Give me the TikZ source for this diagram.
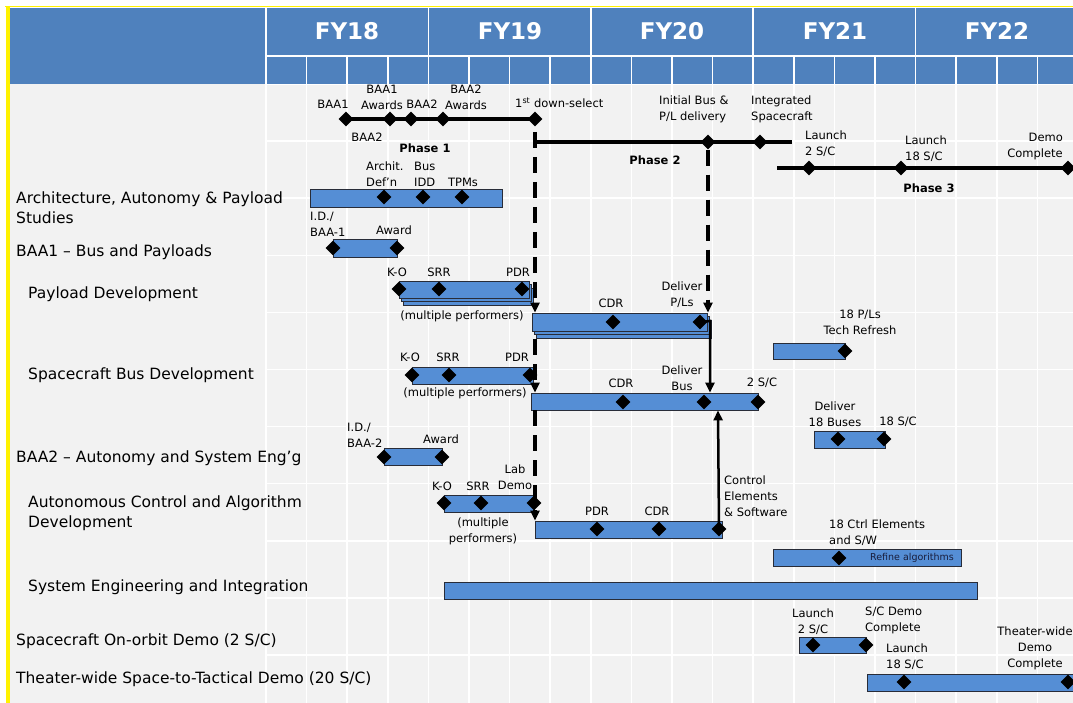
\documentclass[tikz,border=0pt]{standalone}
\usepackage{fontspec}
\setmainfont{DejaVu Sans}
\usetikzlibrary{shapes.geometric,arrows.meta,fit}
\definecolor{hdrblue}{RGB}{79,129,189}
\definecolor{barblue}{RGB}{85,142,213}
\definecolor{bodygray}{RGB}{242,242,242}
\definecolor{baredge}{RGB}{40,44,56}
\tikzset{
 ms/.style={diamond, fill=black, minimum width=15pt, minimum height=15pt, inner sep=0pt},
 barbox/.style={draw=baredge, fill=barblue, line width=0.8pt, inner sep=0pt},
 lbl/.style={font=\fontsize{11.5}{16}\selectfont, inner sep=0pt, align=center},
 lbll/.style={lbl, align=left, anchor=west},
 rowlbl/.style={font=\fontsize{15.5}{20}\selectfont, inner sep=0pt, align=left, anchor=west},
 phase/.style={font=\bfseries\fontsize{11.5}{14}\selectfont, inner sep=0pt},
 fy/.style={font=\bfseries\fontsize{23}{26}\selectfont, text=white, inner sep=0pt},
 phline/.style={line width=3.5pt},
 dline/.style={line width=3.5pt, dash pattern=on 16pt off 9pt},
 sline/.style={line width=2.5pt},
 tip/.style={-{Triangle[length=10pt,width=9pt]}},
 gridl/.style={white, line width=1.5pt},
}
\begin{document}
\begin{tikzpicture}[x=1pt,y=-1pt]
\useasboundingbox (0,0) rectangle (1073,703);
\clip (0,0) rectangle (1073,703);
% background
\fill[bodygray] (10,84) rectangle (1073,703);
\foreach \k in {0,...,20} \draw[gridl] ({266+40.6*\k},84) -- ({266+40.6*\k},703);
\foreach \j in {0,...,11} \draw[gridl] (266,{84+57.1*\j}) -- (1073,{84+57.1*\j});
% header
\fill[hdrblue] (10,8) rectangle (1073,84);
\draw[gridl] (266,8) -- (266,84);
\foreach \k in {1,...,4} \draw[gridl] ({266+162.4*\k},8) -- ({266+162.4*\k},84);
\draw[gridl] (266,56) -- (1073,56);
\foreach \k in {1,...,20} \draw[gridl] ({266+40.6*\k},56) -- ({266+40.6*\k},84);
\node[fy] (fy18) at (347,31) {FY18};
\node[fy] (fy19) at (510,31) {FY19};
\node[fy] (fy20) at (672,31) {FY20};
\node[fy] (fy21) at (835,31) {FY21};
\node[fy] (fy22) at (997,31) {FY22};
% yellow edge
\fill[yellow] (5.5,7) rectangle (9.8,703);
\draw[yellow, line width=1pt] (5,7) -- (1073,7);

% row labels
\node[rowlbl] (r1) at (16,208) {Architecture, Autonomy \& Payload\\Studies};
\node[rowlbl] (r2) at (16,252) {BAA1 \textendash{} Bus and Payloads};
\node[rowlbl] (r3) at (28,294) {Payload Development};
\node[rowlbl] (r4) at (28,375) {Spacecraft Bus Development};
\node[rowlbl] (r5) at (16,458) {BAA2 \textendash{} Autonomy and System Eng’g};
\node[rowlbl] (r6) at (28,513) {Autonomous Control and Algorithm\\Development};
\node[rowlbl] (r7) at (28,587) {System Engineering and Integration};
\node[rowlbl] (r8) at (16,641) {Spacecraft On-orbit Demo (2 S/C)};
\node[rowlbl] (r9) at (16,679) {Theater-wide Space-to-Tactical Demo (20 S/C)};

% ---------- bars ----------
\node[barbox, fit={(310,189) (502,207)}] (arch) {};
\node[barbox, fit={(333,239) (397,257)}] (baa1) {};
\filldraw[barbox] (403,288) rectangle (533,305);
\filldraw[barbox] (401,284.5) rectangle (531,301.5);
\node[barbox, fit={(399,281) (529,298)}] (pd1) {};
\filldraw[barbox] (536,320) rectangle (711,338);
\filldraw[barbox] (534,316.5) rectangle (709,334.5);
\node[barbox, fit={(532,313) (707,331)}] (pd2) {};
\node[barbox, fit={(773,343) (845,359)}] (tr) {};
\node[barbox, fit={(412,367) (533,384)}] (bd1) {};
\node[barbox, fit={(531,393) (758,410)}] (bd2) {};
\node[barbox, fit={(814,431) (885,448)}] (b18) {};
\node[barbox, fit={(384,448) (442,465)}] (baa2) {};
\node[barbox, fit={(444,495) (534,512)}] (ac1) {};
\node[barbox, fit={(535,521) (722,538)}] (ac2) {};
\node[barbox, fit={(773,549) (961,566)}] (ce18) {};
\node[barbox, fit={(444,582) (977,599)}] (se) {};
\node[barbox, fit={(799,637) (866,653)}] (od) {};
\node[barbox, fit={(867,674) (1085,691)}] (tw) {};
\node[font=\fontsize{9.5}{11}\selectfont, text={rgb,255:red,25;green,30;blue,60}, inner sep=0pt] (refine) at (912,558) {Refine algorithms};

% ---------- phase lines ----------
\node[ms] (p1a) at (346,119) {};
\node[ms] (p1b) at (390,119) {};
\node[ms] (p1c) at (411,119) {};
\node[ms] (p1d) at (443,119) {};
\node[ms] (ds) at (535,119) {};
\draw[phline] (p1a.center) -- (p1b.center) -- (p1c.center) -- (p1d.center) -- (ds.center);

\coordinate (p2s) at (535,142);
\coordinate (p2e) at (792,142);
\node[ms] (ib) at (708,142) {};
\node[ms] (is) at (760,142) {};
\draw[phline] (p2s) -- (ib.center) -- (is.center) -- (p2e);

\coordinate (p3s) at (777,168);
\coordinate (p3e) at (1085,168);
\node[ms] (l2) at (809,168) {};
\node[ms] (l18) at (901,168) {};
\node[ms] (dc) at (1068,168) {};
\draw[phline] (p3s) -- (l2.center) -- (l18.center) -- (dc.center) -- (p3e);

% ---------- dashed dependency lines ----------
\coordinate (dsx) at (535,132);
\draw[dline,tip] (dsx) -- (pd2.north -| dsx);
\draw[dline,tip] ([yshift=-8pt]pd2.south -| dsx) -- (bd2.north -| dsx);
\draw[dline,tip] (bd2.south -| dsx) -- (ac2.north -| dsx);
\draw[dline,tip] (ib.south) -- (pd2.north -| ib);

% ---------- milestones on bars ----------
\node[ms] (ad1) at (384,197) {};
\node[ms] (ad2) at (423,197) {};
\node[ms] (ad3) at (462,197) {};
\node[ms] (bi1) at (333,248) {};
\node[ms] (bi2) at (397,248) {};
\node[ms] (pko) at (399,289) {};
\node[ms] (psrr) at (439,289) {};
\node[ms] (ppdr) at (522,289) {};
\node[ms] (pcdr) at (613,322) {};
\node[ms] (dpl) at (700,322) {};
\node[ms] (trd) at (845,351) {};
\node[ms] (bko) at (412,375) {};
\node[ms] (bsrr) at (449,375) {};
\node[ms] (bpdr) at (530,375) {};
\node[ms] (bcdr) at (623,402) {};
\node[ms] (dbus) at (704,402) {};
\node[ms] (b2sc) at (758,402) {};
\node[ms] (b18a) at (838,439) {};
\node[ms] (b18b) at (884,439) {};
\node[ms] (ci1) at (384,457) {};
\node[ms] (ci2) at (442,457) {};
\node[ms] (ako) at (444,503) {};
\node[ms] (asrr) at (481,503) {};
\node[ms] (alab) at (534,503) {};
\node[ms] (apdr) at (597,529) {};
\node[ms] (acdr) at (659,529) {};
\node[ms] (ace) at (719,529) {};
\node[ms] (ced) at (839,558) {};
\node[ms] (od1) at (813,645) {};
\node[ms] (od2) at (866,645) {};
\node[ms] (tw1) at (904,682) {};
\node[ms] (tw2) at (1068,682) {};

% ---------- solid dependency arrows ----------
\coordinate (pdx) at (710,321);
\draw[sline,tip] (dpl.center) -- (pdx) -- (pdx |- bd2.north);
\draw[sline,tip] (ace.center) -- ([xshift=-1pt]ace.center |- bd2.south);

% ---------- top labels ----------
\node[lbl] (t1) at (333,104) {BAA1};
\node[lbl] (t2) at (382,97) {BAA1\\Awards};
\node[lbl] (t3) at (422,104) {BAA2};
\node[lbl] (t4) at (466,97) {BAA2\\Awards};
\node[lbll] (t5) at (515,103) {1\textsuperscript{st} down-select};
\node[lbl] (t6) at (367,137) {BAA2};
\node[phase] (ph1) at (425,148) {Phase 1};
\node[lbll] (t7) at (659,109.5) {Initial Bus \&\\P/L delivery};
\node[lbll] (t8) at (751,109.5) {Integrated\\Spacecraft};
\node[lbll] (t9) at (805,143.5) {Launch\\2 S/C};
\node[phase] (ph2) at (655,160) {Phase 2};
\node[lbll] (t10) at (905,148.5) {Launch\\18 S/C};
\node[lbl, align=right, anchor=east] (t11) at (1063,147) {Demo\\Complete};
\node[phase] (ph3) at (929,188) {Phase 3};

% architecture
\node[lbll] (a1) at (366,174.5) {Archit.\\Def’n};
\node[lbll] (a2) at (414,174.5) {Bus\\IDD};
\node[lbl] (a3) at (463,182) {TPMs};
% BAA1
\node[lbll] (c1) at (310,224) {I.D./\\BAA-1};
\node[lbl] (c2) at (394,230) {Award};
% payload
\node[lbl] (d1) at (397,272) {K-O};
\node[lbl] (d2) at (439,272) {SRR};
\node[lbl] (d3) at (518,272) {PDR};
\node[lbl] (d4) at (462,316) {(multiple performers)};
\node[lbl] (d5) at (611,303) {CDR};
\node[lbl] (d6) at (682,295) {Deliver\\P/Ls};
\node[lbl] (d7) at (860,322) {18 P/Ls\\Tech Refresh};
% bus
\node[lbl] (e1) at (410,357) {K-O};
\node[lbl] (e2) at (448,357) {SRR};
\node[lbl] (e3) at (517,357) {PDR};
\node[lbl] (e4) at (465,393) {(multiple performers)};
\node[lbl] (e5) at (621,383) {CDR};
\node[lbl] (e6) at (682,378) {Deliver\\Bus};
\node[lbl] (e7) at (762,383) {2 S/C};
\node[lbl] (e8) at (835,414.5) {Deliver\\18 Buses};
\node[lbl] (e9) at (898,422) {18 S/C};
% BAA2
\node[lbll] (f1) at (347,435) {I.D./\\BAA-2};
\node[lbl] (f2) at (441,439) {Award};
% autonomy
\node[lbl] (g1) at (442,486) {K-O};
\node[lbl] (g2) at (478,486) {SRR};
\node[lbl] (g3) at (515,477) {Lab\\Demo};
\node[lbl] (g4) at (483,531.5) {(multiple\\performers)};
\node[lbl] (g5) at (597,511) {PDR};
\node[lbl] (g6) at (657,511) {CDR};
\node[lbll] (g7) at (724,496) {Control\\Elements\\\& Software};
\node[lbll] (g8) at (829,533) {18 Ctrl Elements\\and S/W};
% demos
\node[lbl] (h1) at (813,621.5) {Launch\\2 S/C};
\node[lbll] (h2) at (865,620) {S/C Demo\\Complete};
\node[lbll] (h3) at (886,657) {Launch\\18 S/C};
\node[lbl] (h4) at (1035,648.5) {Theater-wide\\Demo\\Complete};
\end{tikzpicture}
\end{document}
